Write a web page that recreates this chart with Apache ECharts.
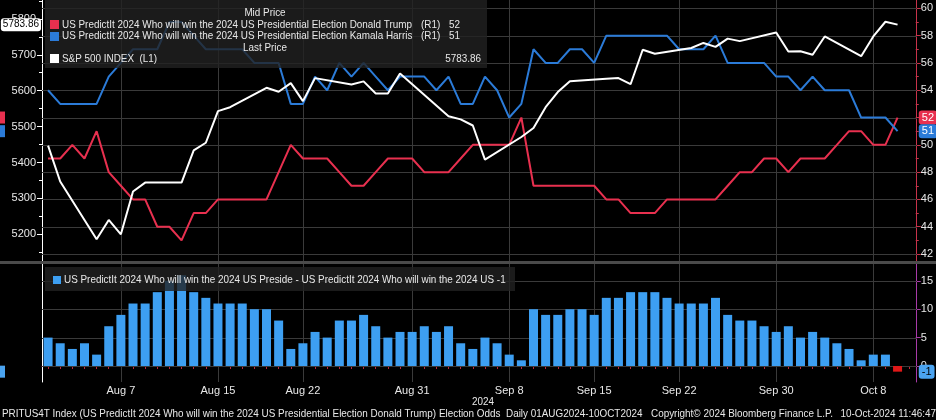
<!DOCTYPE html>
<html><head><meta charset="utf-8">
<script src="https://cdn.jsdelivr.net/npm/echarts@6/dist/echarts.min.js"></script>
<style>html,body{margin:0;padding:0;background:#000;}#c{width:936px;height:420px;}</style>
</head><body><div id="c"></div>
<script>
const FONT = "'Liberation Sans', Arial, sans-serif";

// ---------- data ----------
const months = [['Aug', 31], ['Sep', 30], ['Oct', 10]];
const categories = [];
months.forEach(([m, n]) => { for (let d = 1; d <= n; d++) categories.push(m + ' ' + d); });
categories.push(''); // empty slot at the right edge

const tickLabels = ['Aug 7', 'Aug 15', 'Aug 22', 'Aug 31', 'Sep 8', 'Sep 15', 'Sep 22', 'Sep 30', 'Oct 8'];

// Donald Trump (R1)
const trump = [
  49,49,50,49,51,48,47,46,46,44,44,43,45,45,46,46,46,46,46,48,50,49,49,49,48,47,47,48,49,49,49,
  48,48,48,49,50,50,50,50,52,47,47,47,47,47,47,46,46,45,45,45,46,46,46,46,46,47,48,48,49,49,
  48,49,49,49,50,51,51,50,50,52
];
// Kamala Harris (R1)
const harris = [
  54,53,53,53,53,55,56,57,57,57,59,59,58,57,57,57,57,56,56,56,53,53,55,54,56,55,56,55,54,55,55,
  55,54,55,53,53,55,54,52,53,57,56,56,57,57,56,58,58,58,58,58,58,57,57,57,58,56,56,56,56,55,
  55,54,55,54,54,54,52,52,52,51
];
// S&P 500 INDEX (L1) - null on non-trading days
const spx = [
  5447,5347,null,null,5186,5240,5200,5319,5344,null,null,5344,5434,5455,5543,5554,null,null,5608,5597,5621,5571,5635,null,null,5617,5626,5592,5592,5648,null,
  null,null,5529,5520,5503,5408,null,null,5471,5496,5554,5596,5626,null,null,5633,5635,5618,5714,5703,null,null,5719,5733,5722,5745,5738,null,null,5762,
  5709,5710,5700,5751,null,null,5696,5751,5792,5784
];
const spxLast = 5783.86;
// Harris - Trump spread (bottom panel)
const spread = [
  5,4,3,4,2,7,9,11,11,13,15,16,13,12,11,11,11,10,10,8,3,4,6,5,8,8,9,7,5,6,6,
  7,6,7,4,3,5,4,2,1,10,9,9,10,10,9,12,12,13,13,13,12,11,11,11,12,9,8,8,7,6,
  7,5,6,5,4,3,1,2,2,-1
];

const leftTicks = [5200, 5300, 5400, 5500, 5600, 5700, 5800];
const leftMinor = [5150, 5250, 5350, 5450, 5550, 5650, 5750, 5850];
const rightTicks = [42, 44, 46, 48, 50, 52, 54, 56, 58, 60];
const rightMinor = [43, 45, 47, 49, 51, 53, 55, 57, 59];
const lowTicks = [0, 5, 10, 15];

const RED = '#e8304f', BLUE = '#2b7bd8', BAR = '#3d9ff2', BARNEG = '#e01818';
const GRIDC = '#3a3a3a', TXT = '#e8e8e8';

// narrow the graphic texts so that they match the condensed terminal font
const cv = document.createElement('canvas').getContext('2d');
cv.font = "11px 'Liberation Sans'";
const refW = cv.measureText('US PredictIt 2024 Who will win the 2024 US Presidential Election Donald Trump').width;
const SX = Math.min(1, 350 / refW);

const chart = echarts.init(document.getElementById('c'), null, { renderer: 'canvas' });

const lastT = trump[trump.length - 1], lastH = harris[harris.length - 1], lastS = spread[spread.length - 1];

const hidden = { color: 'rgba(0,0,0,0)', width: 1 };
function tagItem(value, text, bg, fg, pos, fs) {
  return {
    yAxis: value,
    lineStyle: hidden,
    label: {
      show: true, position: pos, distance: fs < 11 ? 1 : 3, formatter: text,
      backgroundColor: bg, color: fg, padding: fs < 11 ? [2, 2, 1, 2] : [2, 3, 1, 3], borderRadius: 3,
      fontSize: fs || 11, fontFamily: FONT
    }
  };
}
function tagOnly(item) {
  return { silent: true, symbol: ['none', 'none'], emphasis: { disabled: true }, data: [item] };
}

const option = {
  backgroundColor: '#000',
  animation: false,
  textStyle: { fontFamily: FONT },
  grid: [
    { left: 42, right: 19, top: 0, bottom: 159 },
    { left: 42, right: 19, top: 264, bottom: 38 }
  ],
  xAxis: [
    { type: 'category', gridIndex: 0, data: categories, boundaryGap: true, show: false },
    { type: 'category', gridIndex: 1, data: categories, boundaryGap: true,
      axisLine: { lineStyle: { color: '#c0283c', width: 1 } },
      axisTick: { show: true, alignWithLabel: true, interval: 0, length: 3, lineStyle: { color: '#c0283c' } },
      axisLabel: { interval: (i, v) => tickLabels.indexOf(v) >= 0, color: TXT, fontSize: 11, margin: 3, fontFamily: FONT },
      splitLine: { show: false } }
  ],
  yAxis: [
    { type: 'value', gridIndex: 0, position: 'left', min: 5125.6, max: 5852.6,
      axisLine: { show: true, lineStyle: { color: '#ffffff' } },
      axisTick: { show: true, length: 5, customValues: leftTicks, lineStyle: { color: '#ffffff' } },
      axisLabel: { customValues: leftTicks, formatter: v => String(v), color: TXT, fontSize: 11, margin: 6, fontFamily: FONT },
      splitLine: { show: false } },
    { type: 'value', gridIndex: 0, position: 'left', min: 5125.6, max: 5852.6,
      axisLine: { show: false },
      axisTick: { show: true, length: 3, customValues: leftMinor, lineStyle: { color: '#ffffff' } },
      axisLabel: { show: false }, splitLine: { show: false } },
    { type: 'value', gridIndex: 0, position: 'right', min: 41.49, max: 60.61,
      axisLine: { show: true, lineStyle: { color: '#c8324a' } },
      axisTick: { show: true, length: 5, customValues: rightTicks, lineStyle: { color: '#c8324a' } },
      axisLabel: { customValues: rightTicks, color: TXT, fontSize: 11, margin: 5, fontFamily: FONT },
      splitLine: { show: false } },
    { type: 'value', gridIndex: 0, position: 'right', min: 41.49, max: 60.61,
      axisLine: { show: false },
      axisTick: { show: true, length: 3, customValues: rightMinor, lineStyle: { color: '#c8324a' } },
      axisLabel: { show: false }, splitLine: { show: false } },
    { type: 'value', gridIndex: 1, position: 'left', min: -2.82, max: 17.96,
      axisLine: { show: true, lineStyle: { color: '#ffffff' } },
      axisTick: { show: false }, axisLabel: { show: false }, splitLine: { show: false } },
    { type: 'value', gridIndex: 1, position: 'right', min: -2.82, max: 17.96,
      axisLine: { show: true, lineStyle: { color: '#a83aa8' } },
      axisTick: { show: true, length: 5, customValues: lowTicks, lineStyle: { color: '#a83aa8' } },
      axisLabel: { customValues: lowTicks, color: TXT, fontSize: 11, margin: 5, fontFamily: FONT },
      splitLine: { show: false } }
  ],
  series: [
    { name: 'Trump', type: 'line', xAxisIndex: 0, yAxisIndex: 2, data: trump, symbol: 'none',
      lineStyle: { color: RED, width: 2 }, itemStyle: { color: RED }, z: 3,
      markLine: tagOnly(tagItem(lastT, String(lastT), RED, '#fff', 'end')) },
    { name: 'Harris', type: 'line', xAxisIndex: 0, yAxisIndex: 2, data: harris, symbol: 'none',
      lineStyle: { color: BLUE, width: 2 }, itemStyle: { color: BLUE }, z: 3,
      markLine: tagOnly(tagItem(lastH, String(lastH), BLUE, '#fff', 'end')) },
    { name: 'SPX', type: 'line', xAxisIndex: 0, yAxisIndex: 0, data: spx, symbol: 'none', connectNulls: true,
      lineStyle: { color: '#ffffff', width: 2 }, itemStyle: { color: '#fff' }, z: 4,
      markLine: tagOnly(tagItem(spxLast, spxLast.toFixed(2), '#ffffff', '#000', 'start', 10)) },
    { name: 'Spread', type: 'bar', xAxisIndex: 1, yAxisIndex: 5, barWidth: 9, z: 3,
      data: spread.map(v => ({ value: v, itemStyle: { color: v < 0 ? BARNEG : BAR } })),
      markLine: tagOnly(tagItem(lastS, String(lastS), '#4aa3f0', '#000', 'end')) }
  ]
};
chart.setOption(option);

// ---------- gridlines and annotations (positions from the axes' scales) ----------
const T = (text, x, y, opts) => Object.assign({ type: 'text', x, y, z: 101, scaleX: SX,
  style: Object.assign({ text, fill: TXT, fontSize: 11, fontFamily: FONT, align: 'left', verticalAlign: 'middle' }, opts || {}) });
const R = (x, y, w, h, fill, z) => ({ type: 'rect', z: z || 101, shape: { x, y, width: w, height: h }, style: { fill } });
// thin rects instead of stroked lines for the grid
const HL = (x1, x2, y) => ({ type: 'rect', z: 1, silent: true, shape: { x: x1, y: y, width: x2 - x1, height: 1 }, style: { fill: GRIDC } });
const VL = (x, y1, y2) => ({ type: 'rect', z: 1, silent: true, shape: { x: x, y: y1, width: 1, height: y2 - y1 }, style: { fill: GRIDC } });

const gTop = { l: 42, r: 917, t: 0, b: 261 }, gBot = { l: 42, r: 917, t: 264, b: 382 };
const gridEls = [];
tickLabels.forEach(c => {
  gridEls.push(VL(Math.round(chart.convertToPixel({ xAxisIndex: 0 }, c)), gTop.t, gTop.b));
  gridEls.push(VL(Math.round(chart.convertToPixel({ xAxisIndex: 1 }, c)), gBot.t, gBot.b));
});
rightTicks.forEach(v => gridEls.push(HL(gTop.l, gTop.r, Math.round(chart.convertToPixel({ yAxisIndex: 2 }, v)))));
lowTicks.forEach(v => gridEls.push(HL(gBot.l, gBot.r, Math.round(chart.convertToPixel({ yAxisIndex: 5 }, v)))));

const yT = chart.convertToPixel({ yAxisIndex: 2 }, lastT);
const yH = chart.convertToPixel({ yAxisIndex: 2 }, lastH);
const yS = chart.convertToPixel({ yAxisIndex: 5 }, lastS);

const graphics = gridEls.concat([
  R(0, 261, 936, 3, '#4a4a4a', 50),
  R(45, 0, 442, 68, 'rgba(34,34,34,0.8)', 100),
  T('Mid Price', 265, 12.5, { align: 'center' }),
  R(50, 20, 9, 9, RED),
  T('US PredictIt 2024 Who will win the 2024 US Presidential Election Donald Trump', 62, 24.5),
  T('(R1)', 421, 24.5), T(String(lastT), 449, 24.5),
  R(50, 32, 9, 9, BLUE),
  T('US PredictIt 2024 Who will win the 2024 US Presidential Election Kamala Harris', 62, 36),
  T('(R1)', 421, 36), T(String(lastH), 449, 36),
  T('Last Price', 265, 47.5, { align: 'center' }),
  R(50, 54, 9, 9, '#ffffff'),
  T('S&P 500 INDEX  (L1)', 62, 59),
  T(spxLast.toFixed(2), 481, 59, { align: 'right' }),
  R(45, 267, 470, 24, 'rgba(34,34,34,0.8)', 100),
  R(53, 276, 8, 8, BAR),
  T('US PredictIt 2024 Who will win the 2024 US Preside - US PredictIt 2024 Who will win the 2024 US -1', 64, 280),
  T('2024', 483, 402, { align: 'center' }),
  T('PRITUS4T Index (US PredictIt 2024 Who will win the 2024 US Presidential Election Donald Trump) Election Odds  Daily 01AUG2024-10OCT2024', 2, 414),
  T('Copyright\u00a9 2024 Bloomberg Finance L.P.', 651, 414),
  T('10-Oct-2024 11:46:47', 936, 414, { align: 'right' }),
  R(0, yT - 6, 5, 12, RED),
  R(0, yH - 6, 5, 12, BLUE),
  R(0, yS - 6, 5, 12, '#4aa3f0')
]);
chart.setOption({ graphic: graphics });
</script></body></html>
